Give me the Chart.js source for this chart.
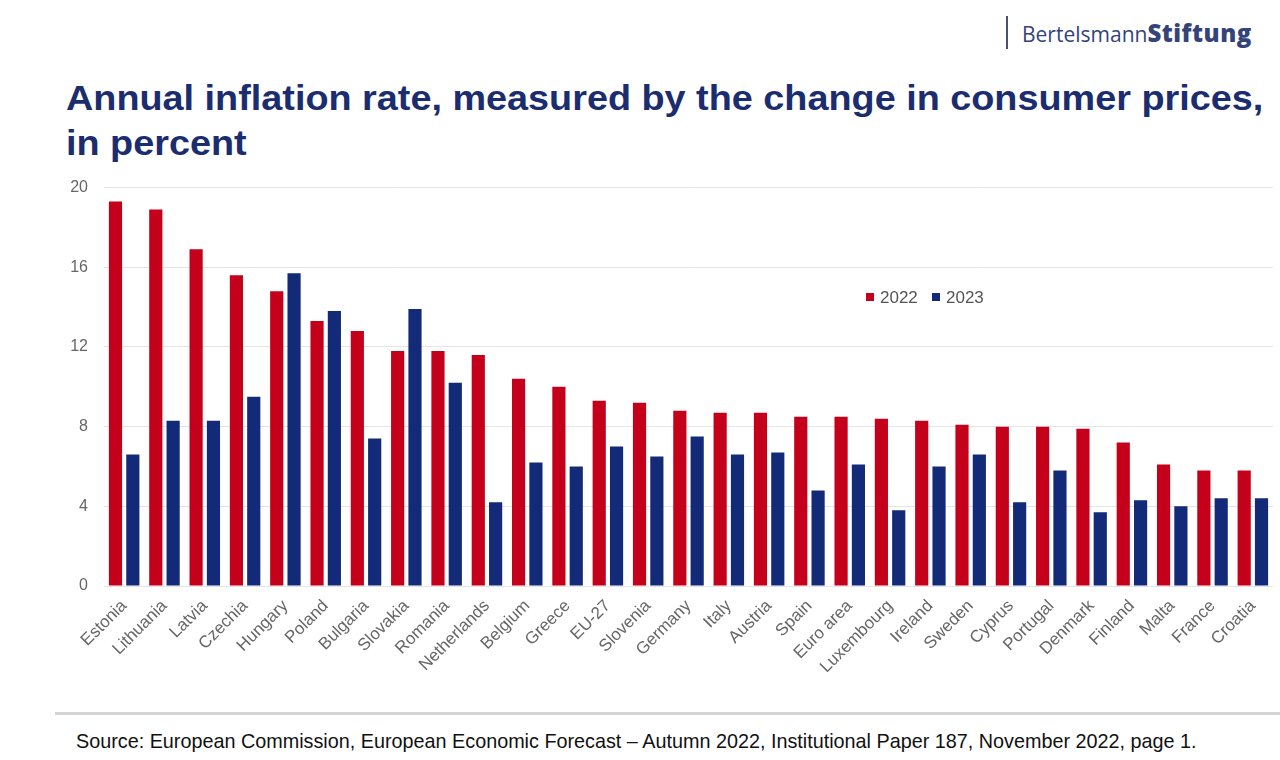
<!DOCTYPE html>
<html>
<head>
<meta charset="utf-8">
<script src="https://cdn.jsdelivr.net/npm/chart.js@4"></script>
<style>
  body { margin: 0; width: 1280px; height: 760px; overflow: hidden; background: #fff; font-family: "Liberation Sans", Arial, sans-serif; position: relative; }
  #logo { position: absolute; left: 1006px; top: 16px; height: 33px; border-left: 2px solid #4a5270; padding-left: 14px; font-family: "Open Sans", "DejaVu Sans", sans-serif; font-size: 21px; line-height: 33px; color: #34437a; white-space: nowrap; }
  #logo b { font-weight: 800; letter-spacing: 0.5px; font-size: 24px; }
  h1 { position: absolute; left: 66px; top: 75px; margin: 0; font-size: 35px; line-height: 45px; font-weight: 700; color: #1b2d6e; white-space: nowrap; transform: scaleX(1.08); transform-origin: left top; }
  #wrap { position: absolute; left: 55px; top: 162px; width: 1225px; height: 553px; }
  #legend { position: absolute; left: 866px; top: 288px; font-size: 17px; color: #555; white-space: nowrap; }
  #legend span.box { display: inline-block; width: 8px; height: 8px; margin-right: 6px; vertical-align: 2px; }
  #rule { position: absolute; left: 55px; top: 712px; width: 1225px; height: 3px; background: #d4d4d4; }
  #source { position: absolute; left: 76px; top: 730px; font-size: 19.8px; color: #111; white-space: nowrap; }
</style>
</head>
<body>
<div id="logo">Bertelsmann<b>Stiftung</b></div>
<h1>Annual inflation rate, measured by the change in consumer prices,<br>in percent</h1>
<div id="wrap"><canvas id="chart"></canvas></div>
<div id="legend"><span class="box" style="background:#c4001a"></span>2022&nbsp;&nbsp;&nbsp;<span class="box" style="background:#122a78"></span>2023</div>
<div id="rule"></div>
<div id="source">Source: European Commission, European Economic Forecast – Autumn 2022, Institutional Paper 187, November 2022, page 1.</div>

<script>
// ===============================
// DATA
// ===============================
const countries = [
  "Estonia", "Lithuania", "Latvia", "Czechia", "Hungary", "Poland", "Bulgaria",
  "Slovakia", "Romania", "Netherlands", "Belgium", "Greece", "EU-27", "Slovenia",
  "Germany", "Italy", "Austria", "Spain", "Euro area", "Luxembourg", "Ireland",
  "Sweden", "Cyprus", "Portugal", "Denmark", "Finland", "Malta", "France", "Croatia"
];

const rate2022 = [
  19.3, 18.9, 16.9, 15.6, 14.8, 13.3, 12.8,
  11.8, 11.8, 11.6, 10.4, 10.0, 9.3, 9.2,
  8.8, 8.7, 8.7, 8.5, 8.5, 8.4, 8.3,
  8.1, 8.0, 8.0, 7.9, 7.2, 6.1, 5.8, 5.8
];

const rate2023 = [
  6.6, 8.3, 8.3, 9.5, 15.7, 13.8, 7.4,
  13.9, 10.2, 4.2, 6.2, 6.0, 7.0, 6.5,
  7.5, 6.6, 6.7, 4.8, 6.1, 3.8, 6.0,
  6.6, 4.2, 5.8, 3.7, 4.3, 4.0, 4.4, 4.4
];

const yTicks = [0, 4, 8, 12, 16, 20];

// ===============================
// CHART
// ===============================
Chart.defaults.font.family = '"Liberation Sans", Arial, sans-serif';
Chart.defaults.animation = false;

new Chart(document.getElementById("chart"), {
  type: "bar",
  data: {
    labels: countries,
    datasets: [
      { label: "2022", data: rate2022, backgroundColor: "#c4001a" },
      { label: "2023", data: rate2023, backgroundColor: "#122a78" }
    ]
  },
  options: {
    responsive: true,
    maintainAspectRatio: false,
    layout: { padding: { top: 0, right: 7, left: 0, bottom: 0 } },
    datasets: { bar: { categoryPercentage: 0.86, barPercentage: 0.76 } },
    plugins: { legend: { display: false }, tooltip: { enabled: false } },
    scales: {
      x: {
        grid: { display: false },
        border: { display: false },
        ticks: { color: "#666", font: { size: 17 }, minRotation: 45, maxRotation: 45, padding: 2, autoSkip: false },
        afterFit: s => { s.height = 129; }
      },
      y: {
        min: 0,
        max: 20,
        afterBuildTicks: s => { s.ticks = yTicks.map(v => ({ value: v })); },
        grid: { color: "#e4e4e4", drawTicks: false },
        border: { display: false },
        ticks: { color: "#666", font: { size: 16 }, padding: 16 },
        afterFit: s => { s.width = 49; }
      }
    }
  }
});
</script>
</body>
</html>
